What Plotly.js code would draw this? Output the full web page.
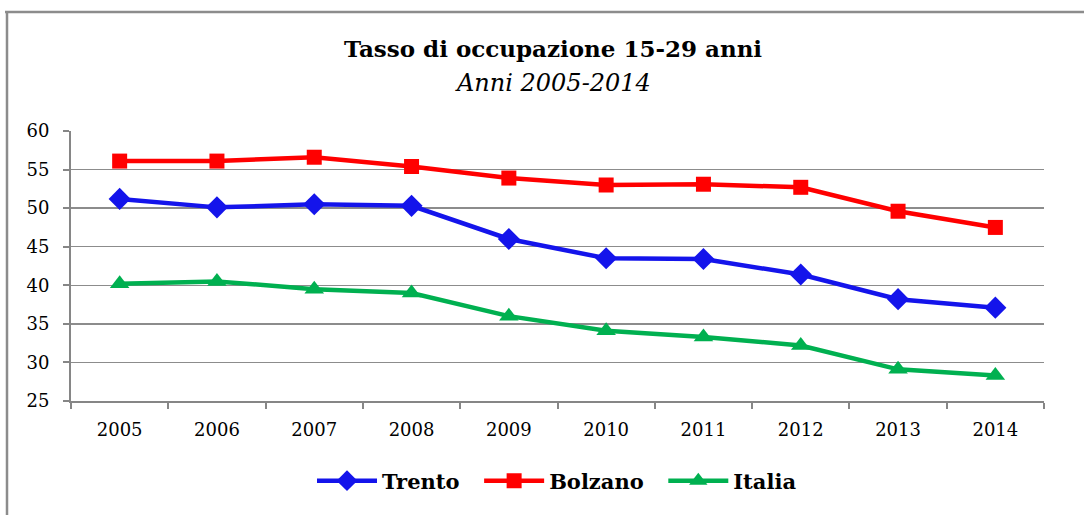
<!DOCTYPE html>
<html>
<head>
<meta charset="utf-8">
<script src="https://cdn.plot.ly/plotly-3.0.1.min.js"></script>
<style>html,body{margin:0;padding:0;background:#fff}#chart{width:1084px;height:515px}</style>
</head>
<body>
<div id="chart"></div>
<script>
const years = ['2005','2006','2007','2008','2009','2010','2011','2012','2013','2014'];
const trento = [51.2, 50.1, 50.5, 50.3, 46.0, 43.5, 43.4, 41.4, 38.2, 37.1];
const bolzano = [56.1, 56.1, 56.6, 55.4, 53.9, 53.0, 53.1, 52.7, 49.6, 47.5];
const italia = [40.2, 40.5, 39.5, 39.0, 36.0, 34.1, 33.3, 32.2, 29.1, 28.3];
const seriesNames = ['Trento', 'Bolzano', 'Italia'];
const titleText = 'Tasso di occupazione 15-29 anni';
const subtitleText = 'Anni 2005-2014';

const FONT = "'DejaVu Serif', 'Liberation Serif', serif";
const W = 1084, H = 515;
const mL = 71, mR = 40, mT = 131, mB = 114;
const pw = W - mL - mR, ph = H - mT - mB;
const px = x => (x - mL) / pw;
const py = y => (H - mB - y) / ph;
const pad = '\u00A0\u00A0';

const traces = [
  {x: years, y: trento, name: seriesNames[0] + pad, type: 'scatter', mode: 'lines+markers',
   line: {color: '#1414EB', width: 4.5}, marker: {symbol: 'diamond', size: 17, color: '#1414EB'}},
  {x: years, y: bolzano, name: seriesNames[1] + pad, type: 'scatter', mode: 'lines+markers',
   line: {color: '#FF0000', width: 4.5}, marker: {symbol: 'square', size: 15, color: '#FF0000'}},
  {x: years, y: italia, name: seriesNames[2], type: 'scatter', mode: 'lines+markers',
   line: {color: '#00B050', width: 4.5}, marker: {symbol: 'triangle-up', size: 17, color: '#00B050'}}
];

const layout = {
  width: W, height: H,
  margin: {l: mL, r: mR, t: mT, b: mB},
  paper_bgcolor: '#fff', plot_bgcolor: '#fff',
  font: {family: FONT, color: '#000', size: 18},
  xaxis: {
    type: 'category', tickson: 'boundaries', ticks: 'outside', ticklen: 6, tickwidth: 2, tickcolor: '#868686',
    showline: true, linecolor: '#868686', linewidth: 2, showgrid: false, zeroline: false,
    tickfont: {family: FONT, size: 18, color: '#000'}, range: [-0.5, 9.5], fixedrange: true,
    ticklabelstandoff: 11
  },
  yaxis: {
    range: [25, 60], dtick: 5, tick0: 25, ticks: 'outside', ticklen: 6, tickwidth: 2, tickcolor: '#868686',
    showline: true, linecolor: '#868686', linewidth: 2, showgrid: true, gridcolor: '#8C8C8C', gridwidth: 1.5,
    zeroline: false, tickfont: {family: FONT, size: 18, color: '#000'}, ticklabelstandoff: 10
  },
  showlegend: true,
  legend: {
    orientation: 'h', x: px(312), xanchor: 'left', y: py(481), yanchor: 'middle',
    font: {family: FONT, size: 21, color: '#000', weight: 'bold'}, itemwidth: 60,
    bgcolor: 'rgba(0,0,0,0)'
  },
  annotations: [
    {text: '<b>' + titleText + '</b>', xref: 'paper', yref: 'paper', x: px(553), y: py(48),
     xanchor: 'center', yanchor: 'middle', showarrow: false, font: {family: FONT, size: 23, color: '#000'}},
    {text: '<i>' + subtitleText + '</i>', xref: 'paper', yref: 'paper', x: px(553), y: py(83),
     xanchor: 'center', yanchor: 'middle', showarrow: false, font: {family: FONT, size: 24, color: '#000'}}
  ],
  shapes: [
    {type: 'line', xref: 'paper', yref: 'paper', x0: px(5), x1: px(1084), y0: py(12), y1: py(12),
     line: {color: '#8C8C8C', width: 2.5}},
    {type: 'line', xref: 'paper', yref: 'paper', x0: px(7), x1: px(7), y0: py(12), y1: py(515),
     line: {color: '#8C8C8C', width: 2.5}}
  ]
};

Plotly.newPlot('chart', traces, layout, {displayModeBar: false, staticPlot: true});
</script>
</body>
</html>
